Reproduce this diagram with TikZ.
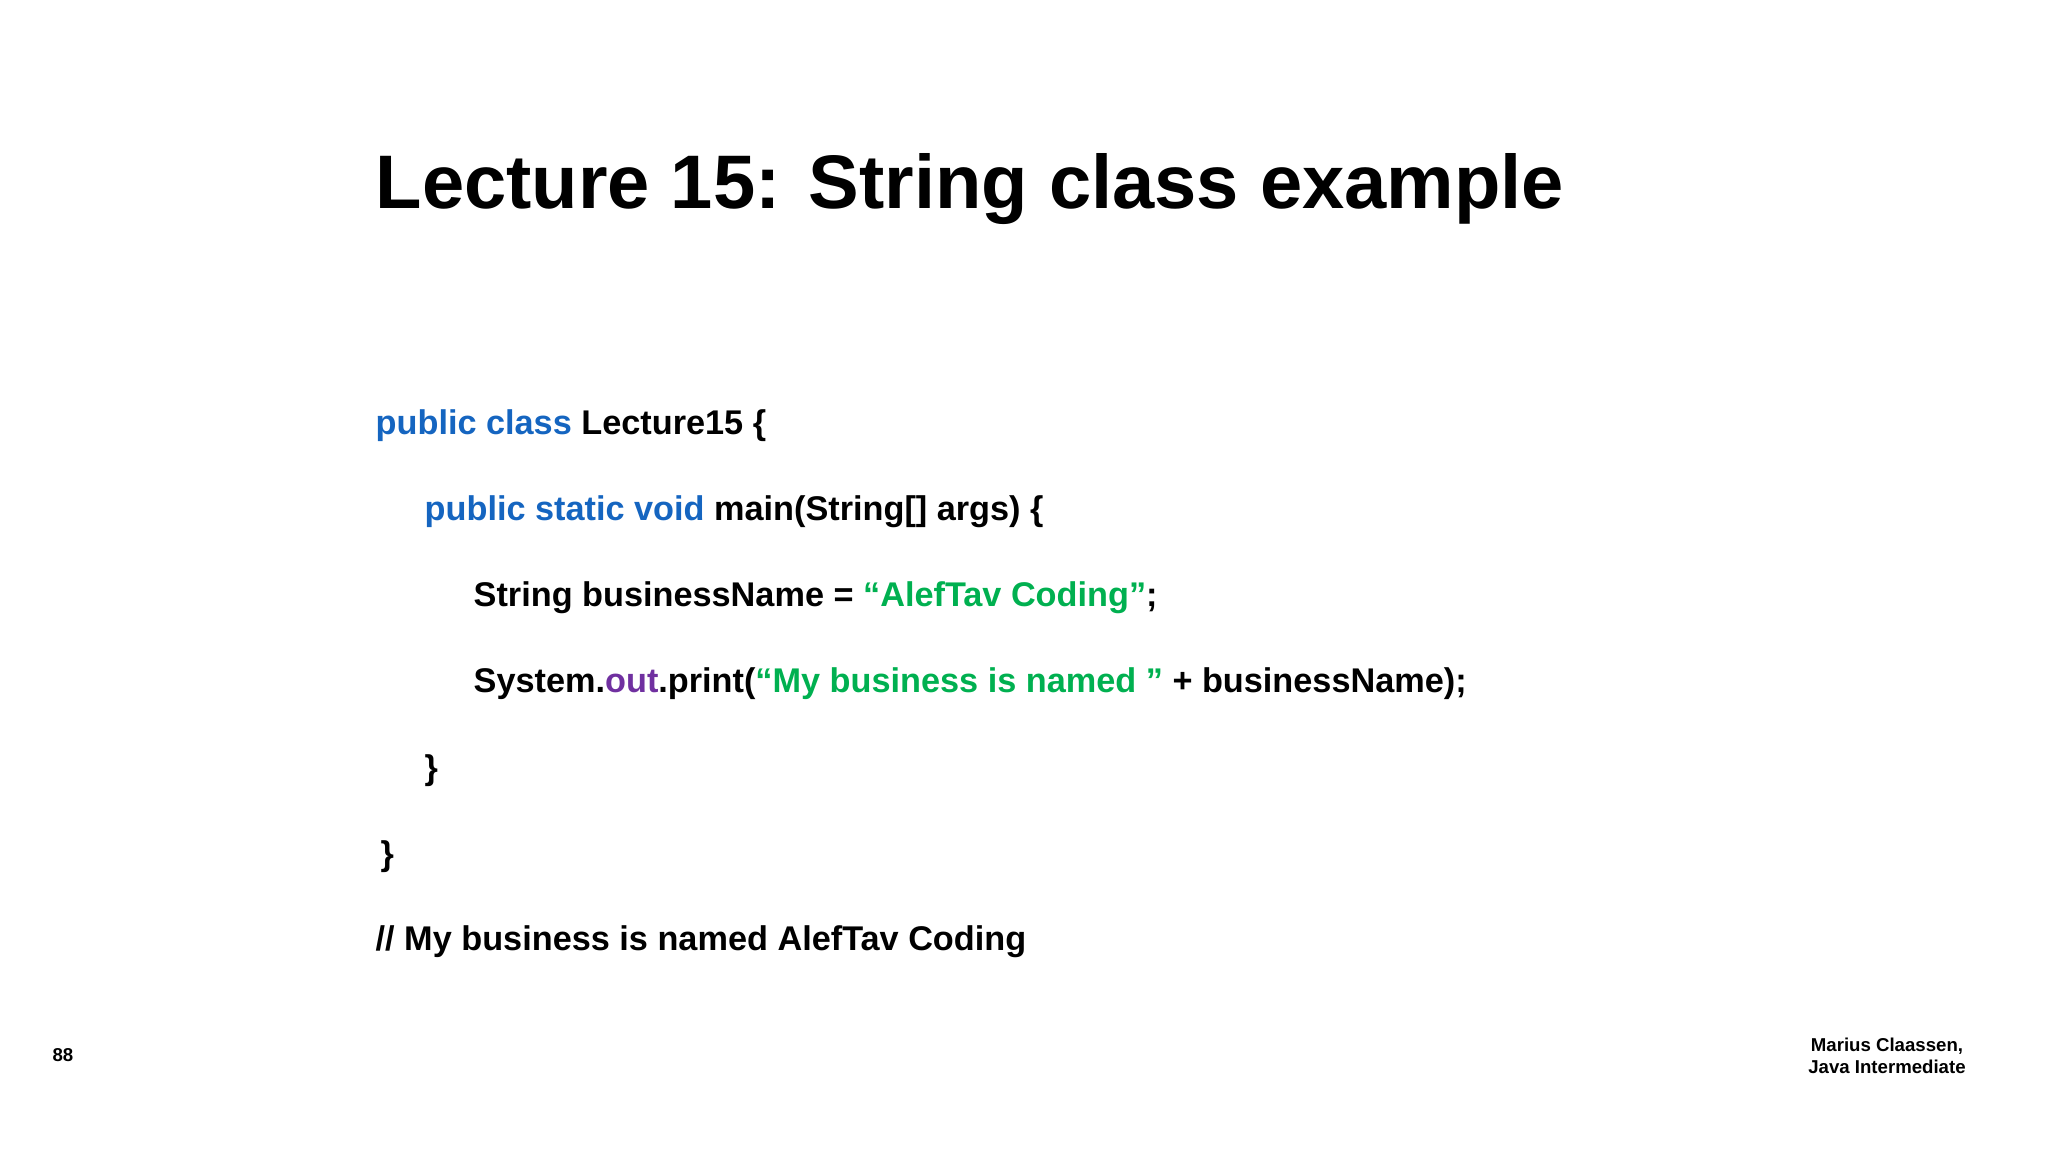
\documentclass[tikz,border=0pt]{standalone}
\usepackage{fontspec}
\setmainfont{Liberation Sans}
\usepackage{xcolor}
\usetikzlibrary{positioning}
\definecolor{kwBlue}{HTML}{1565C0}
\definecolor{strGreen}{HTML}{00B050}
\definecolor{outPurple}{HTML}{7030A0}
\tikzstyle{codeline} = [anchor=base west, inner sep=0pt, font=\fontsize{9.75}{11}\selectfont\bfseries]
\tikzstyle{footer} = [inner sep=0pt, font=\fontsize{5.3}{6.4}\selectfont\bfseries, align=center]

\begin{document}
\begin{tikzpicture}
\useasboundingbox (0,0) rectangle (20.48,-11.52);

\node (title) [anchor=base west, inner sep=0pt, font=\fontsize{21.6}{26}\selectfont\bfseries] at (3.75,-2.09) {Lecture 15: String class example};

\node (l1) [codeline] at (3.75,-4.35) {\textcolor{kwBlue}{public class} Lecture15 \{};
\node (l2) [codeline] at (4.24,-5.21) {\textcolor{kwBlue}{public static void} main(String[] args) \{};
\node (l3) [codeline] at (4.73,-6.07) {String businessName = \textcolor{strGreen}{“AlefTav Coding”};};
\node (l4) [codeline] at (4.73,-6.93) {System.\textcolor{outPurple}{out}.print(\textcolor{strGreen}{“My business is named ”} + businessName);};
\node (l5) [codeline] at (4.24,-7.80) {\}};
\node (l6) [codeline] at (3.80,-8.66) {\}};
\node (l7) [codeline] at (3.75,-9.50) {// My business is named AlefTav Coding};

\node (page) [footer] at (0.63,-10.55) {88};
\node (author) [footer] at (18.87,-10.56) {Marius Claassen,\\Java Intermediate};

\end{tikzpicture}
\end{document}
